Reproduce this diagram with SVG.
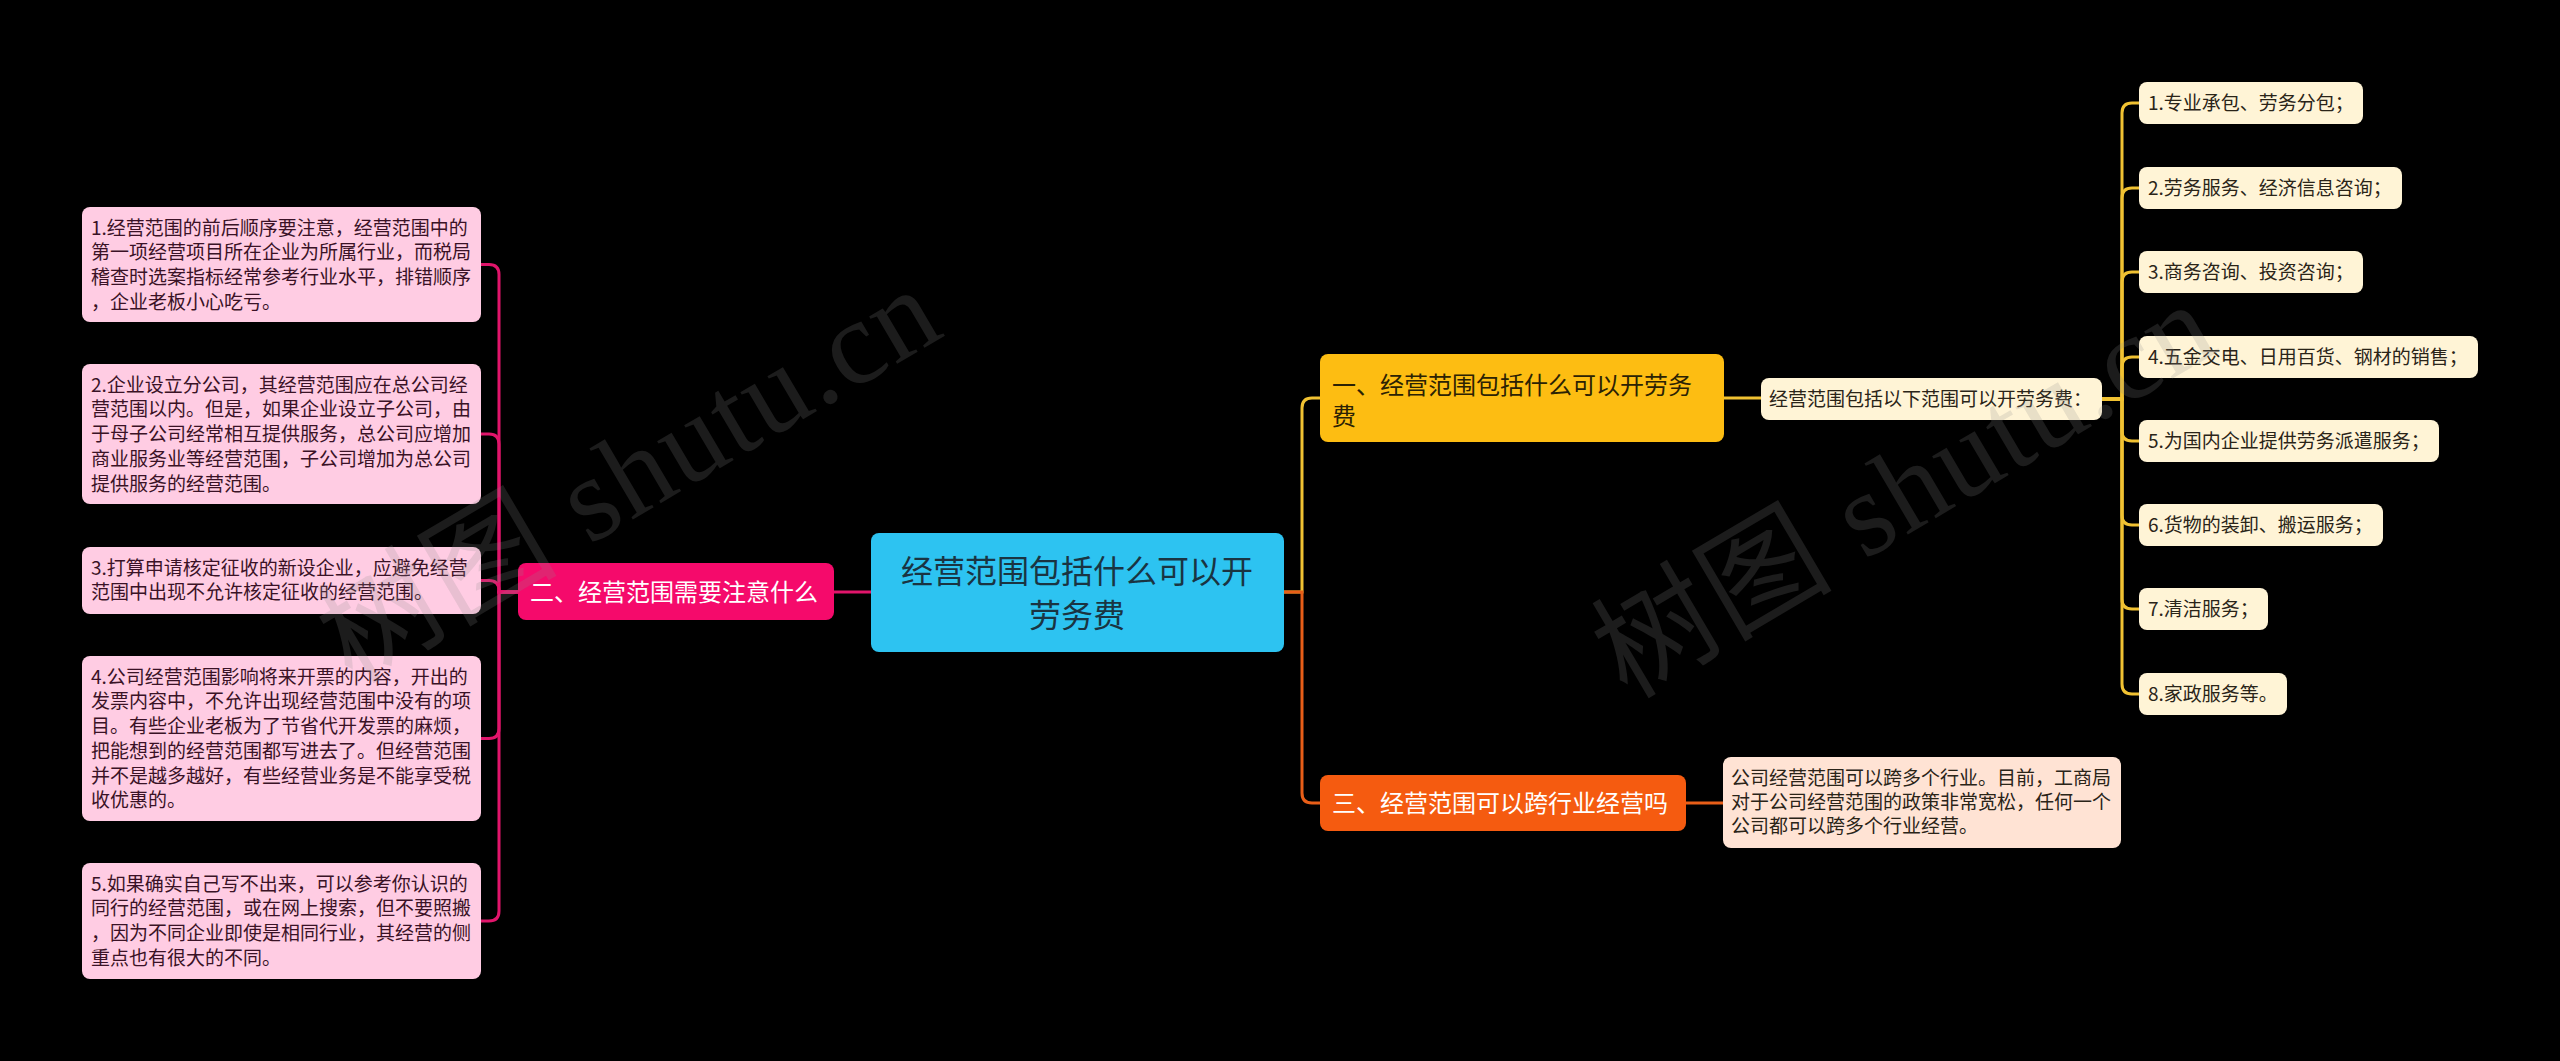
<svg xmlns="http://www.w3.org/2000/svg" width="2560" height="1061" viewBox="0 0 2560 1061">
<style>
text{font-family:"Noto Sans CJK SC","Noto Sans",sans-serif;}
.s19{font-size:19px;}
.s24{font-size:24px;}
.s32{font-size:32px;}
.dark{fill:#2a2418;}
.pinkt{fill:#3a1226;}
.white{fill:#ffffff;}
.con{fill:none;stroke-width:3;stroke-linecap:round;}
.cp{stroke:#E1156B;}
.cy{stroke:#F1C232;}
.co{stroke:#E85E18;}
.pbox{fill:#FFCCE3;}
.ybox{fill:#FFF4D6;}
.obox{fill:#FFE3D4;}
.wm{font-family:"Liberation Serif","Noto Sans CJK SC",serif;font-size:120px;fill:#8c8c8c;fill-opacity:0.2;}
</style>
<rect x="0" y="0" width="2560" height="1061" fill="#000000"/>

<g id="connectors">
  <path class="con cp" d="M871 592 H834"/>
  <path class="con cp" d="M518 592 H499 V274.5 Q499 264.5 489 264.5 H481"/>
  <path class="con cp" d="M518 592 H499 V444 Q499 434 489 434 H481"/>
  <path class="con cp" d="M518 592 H499 V590.5 Q499 580.5 489 580.5 H481"/>
  <path class="con cp" d="M518 592 H499 V728.5 Q499 738.5 489 738.5 H481"/>
  <path class="con cp" d="M518 592 H499 V911 Q499 921 489 921 H481"/>
  <path class="con cy" d="M1284 592 H1302 V408 Q1302 398 1312 398 H1320"/>
  <path class="con co" d="M1284 592 H1302 V793 Q1302 803 1312 803 H1320"/>
  <path class="con cy" d="M1724 398 H1761"/>
  <path class="con co" d="M1686 803 H1723"/>
  <path class="con cy" d="M2102 399 H2122 V113 Q2122 103 2132 103 H2139"/>
  <path class="con cy" d="M2102 399 H2122 V198 Q2122 188 2132 188 H2139"/>
  <path class="con cy" d="M2102 399 H2122 V282 Q2122 272 2132 272 H2139"/>
  <path class="con cy" d="M2102 399 H2122 V367 Q2122 357 2132 357 H2139"/>
  <path class="con cy" d="M2102 399 H2122 V431 Q2122 441 2132 441 H2139"/>
  <path class="con cy" d="M2102 399 H2122 V515 Q2122 525 2132 525 H2139"/>
  <path class="con cy" d="M2102 399 H2122 V599 Q2122 609 2132 609 H2139"/>
  <path class="con cy" d="M2102 399 H2122 V684 Q2122 694 2132 694 H2139"/>
</g>

<g id="root">
  <rect x="871" y="533" width="413" height="119" rx="8" fill="#2DC3F1"/>
  <text class="s32" fill="#1A3442" text-anchor="middle" x="1077" y="583">经营范围包括什么可以开<tspan x="1077" y="627">劳务费</tspan></text>
</g>

<g id="n2">
  <rect x="518" y="563" width="316" height="57" rx="8" fill="#F50A6B"/>
  <text class="s24 white" x="530" y="601">二、经营范围需要注意什么</text>
</g>

<g id="n2c1">
  <rect class="pbox" x="82" y="207" width="399" height="115" rx="8"/>
  <text class="s19 pinkt" x="91" y="234.7">1.经营范围的前后顺序要注意，经营范围中的<tspan x="91" dy="24.7">第一项经营项目所在企业为所属行业，而税局</tspan><tspan x="91" dy="24.7">稽查时选案指标经常参考行业水平，排错顺序</tspan><tspan x="91" dy="24.7">，企业老板小心吃亏。</tspan></text>
</g>
<g id="n2c2">
  <rect class="pbox" x="82" y="364" width="399" height="140" rx="8"/>
  <text class="s19 pinkt" x="91" y="391.7">2.企业设立分公司，其经营范围应在总公司经<tspan x="91" dy="24.7">营范围以内。但是，如果企业设立子公司，由</tspan><tspan x="91" dy="24.7">于母子公司经常相互提供服务，总公司应增加</tspan><tspan x="91" dy="24.7">商业服务业等经营范围，子公司增加为总公司</tspan><tspan x="91" dy="24.7">提供服务的经营范围。</tspan></text>
</g>
<g id="n2c3">
  <rect class="pbox" x="82" y="547" width="399" height="67" rx="8"/>
  <text class="s19 pinkt" x="91" y="574.7">3.打算申请核定征收的新设企业，应避免经营<tspan x="91" dy="24.7">范围中出现不允许核定征收的经营范围。</tspan></text>
</g>
<g id="n2c4">
  <rect class="pbox" x="82" y="656" width="399" height="165" rx="8"/>
  <text class="s19 pinkt" x="91" y="683.7">4.公司经营范围影响将来开票的内容，开出的<tspan x="91" dy="24.7">发票内容中，不允许出现经营范围中没有的项</tspan><tspan x="91" dy="24.7">目。有些企业老板为了节省代开发票的麻烦，</tspan><tspan x="91" dy="24.7">把能想到的经营范围都写进去了。但经营范围</tspan><tspan x="91" dy="24.7">并不是越多越好，有些经营业务是不能享受税</tspan><tspan x="91" dy="24.7">收优惠的。</tspan></text>
</g>
<g id="n2c5">
  <rect class="pbox" x="82" y="863" width="399" height="116" rx="8"/>
  <text class="s19 pinkt" x="91" y="890.7">5.如果确实自己写不出来，可以参考你认识的<tspan x="91" dy="24.7">同行的经营范围，或在网上搜索，但不要照搬</tspan><tspan x="91" dy="24.7">，因为不同企业即使是相同行业，其经营的侧</tspan><tspan x="91" dy="24.7">重点也有很大的不同。</tspan></text>
</g>

<g id="n1">
  <rect x="1320" y="354" width="404" height="88" rx="8" fill="#FDBD12"/>
  <text class="s24" fill="#2B2204" x="1332" y="394">一、经营范围包括什么可以开劳务<tspan x="1332" y="425">费</tspan></text>
</g>
<g id="n1c">
  <rect class="ybox" x="1761" y="378" width="341" height="42" rx="8"/>
  <text class="s19 dark" x="1769" y="406">经营范围包括以下范围可以开劳务费：</text>
</g>
<g id="i1"><rect class="ybox" x="2139" y="82" width="224" height="42" rx="8"/><text class="s19 dark" x="2148" y="110">1.专业承包、劳务分包；</text></g>
<g id="i2"><rect class="ybox" x="2139" y="167" width="263" height="42" rx="8"/><text class="s19 dark" x="2148" y="195">2.劳务服务、经济信息咨询；</text></g>
<g id="i3"><rect class="ybox" x="2139" y="251" width="224" height="42" rx="8"/><text class="s19 dark" x="2148" y="279">3.商务咨询、投资咨询；</text></g>
<g id="i4"><rect class="ybox" x="2139" y="336" width="339" height="42" rx="8"/><text class="s19 dark" x="2148" y="364">4.五金交电、日用百货、钢材的销售；</text></g>
<g id="i5"><rect class="ybox" x="2139" y="420" width="300" height="42" rx="8"/><text class="s19 dark" x="2148" y="448">5.为国内企业提供劳务派遣服务；</text></g>
<g id="i6"><rect class="ybox" x="2139" y="504" width="244" height="42" rx="8"/><text class="s19 dark" x="2148" y="532">6.货物的装卸、搬运服务；</text></g>
<g id="i7"><rect class="ybox" x="2139" y="588" width="129" height="42" rx="8"/><text class="s19 dark" x="2148" y="616">7.清洁服务；</text></g>
<g id="i8"><rect class="ybox" x="2139" y="673" width="148" height="42" rx="8"/><text class="s19 dark" x="2148" y="701">8.家政服务等。</text></g>

<g id="n3">
  <rect x="1320" y="775" width="366" height="56" rx="8" fill="#F55B10"/>
  <text class="s24 white" x="1332" y="812">三、经营范围可以跨行业经营吗</text>
</g>
<g id="n3c">
  <rect class="obox" x="1723" y="757" width="398" height="91" rx="8"/>
  <text class="s19 dark" x="1731" y="784.7">公司经营范围可以跨多个行业。目前，工商局<tspan x="1731" dy="24">对于公司经营范围的政策非常宽松，任何一个</tspan><tspan x="1731" dy="24">公司都可以跨多个行业经营。</tspan></text>
</g>

<g id="watermarks">
  <text class="wm" transform="translate(352 685) rotate(-30.5)" textLength="690" lengthAdjust="spacing">树图 shutu.cn</text>
  <text class="wm" transform="translate(1627 700) rotate(-30.5)" textLength="690" lengthAdjust="spacing">树图 shutu.cn</text>
</g>
</svg>
